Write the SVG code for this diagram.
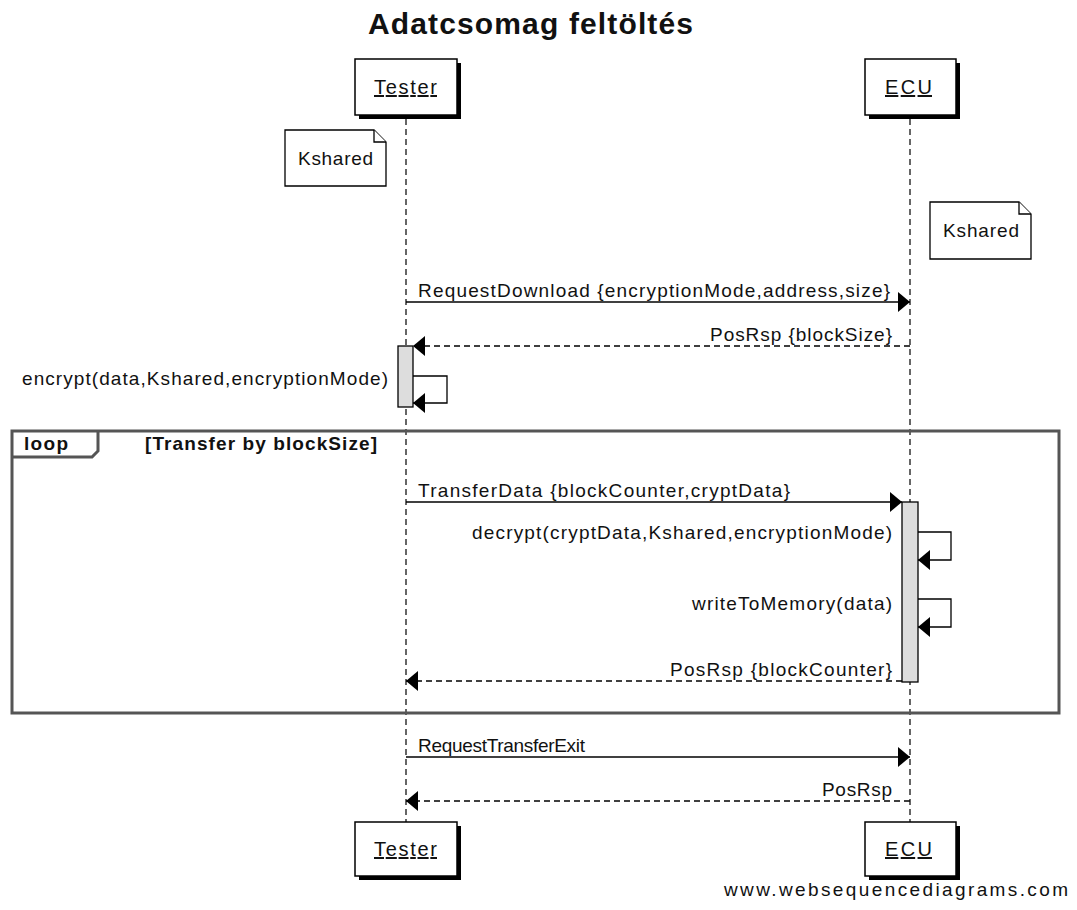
<svg xmlns="http://www.w3.org/2000/svg" width="1077" height="910" viewBox="0 0 1077 910">
  <style>
    text { font-family: "Liberation Sans", Arial, sans-serif; fill: #111; }
    .title { font-size: 30px; font-weight: bold; }
    .lbl { font-size: 19px; }
    .actor-txt { font-size: 20px; text-decoration: underline; }
    .actor { fill: #fff; stroke: #000; stroke-width: 1.5; }
    .shadow { fill: #000; }
    .lifeline { stroke: #000; stroke-width: 1.2; stroke-dasharray: 6 4; fill: none; }
    .msg { stroke: #000; stroke-width: 1.3; fill: none; }
    .ret { stroke: #000; stroke-width: 1.3; fill: none; stroke-dasharray: 6 4; }
    .act { fill: #ddd; stroke: #000; stroke-width: 1.3; }
    .note { fill: #fff; stroke: #000; stroke-width: 1.3; }
    .frame { fill: none; stroke: #555; stroke-width: 3; }
    .bold { font-weight: bold; }
  </style>
  <defs>
    <marker id="arrow" markerUnits="userSpaceOnUse" markerWidth="13" markerHeight="22" refX="12" refY="11" orient="auto">
      <path d="M0,1 L12,11 L0,21 Z" fill="#000"/>
    </marker>
  </defs>

  <rect width="1077" height="910" fill="#fff"/>

  <text class="title" x="368" y="34" textLength="325" lengthAdjust="spacing">Adatcsomag feltöltés</text>

  <!-- lifelines -->
  <g id="lifelines">
    <line class="lifeline" x1="406" y1="119" x2="406" y2="822"/>
    <line class="lifeline" x1="910" y1="119" x2="910" y2="822"/>
  </g>

  <!-- participants -->
  <g id="tester-top">
    <rect class="shadow" x="359" y="63" width="102" height="56"/>
    <rect class="actor" x="355" y="59" width="102" height="56"/>
    <text class="actor-txt" x="374" y="94" textLength="63" lengthAdjust="spacing">Tester</text>
  </g>
  <g id="ecu-top">
    <rect class="shadow" x="869" y="63" width="91" height="56"/>
    <rect class="actor" x="865" y="59" width="91" height="56"/>
    <text class="actor-txt" x="885" y="94" textLength="47" lengthAdjust="spacing">ECU</text>
  </g>
  <g id="tester-bottom">
    <rect class="shadow" x="359" y="826" width="102" height="54"/>
    <rect class="actor" x="355" y="822" width="102" height="54"/>
    <text class="actor-txt" x="374" y="856" textLength="63" lengthAdjust="spacing">Tester</text>
  </g>
  <g id="ecu-bottom">
    <rect class="shadow" x="869" y="826" width="91" height="54"/>
    <rect class="actor" x="865" y="822" width="91" height="54"/>
    <text class="actor-txt" x="885" y="856" textLength="47" lengthAdjust="spacing">ECU</text>
  </g>

  <!-- notes -->
  <g id="note-tester">
    <path class="note" d="M285,130 H374 L386,142 V186 H285 Z"/>
    <path class="note" d="M374,130 V142 H386"/>
    <text class="lbl" x="298" y="165" textLength="75" lengthAdjust="spacing">Kshared</text>
  </g>
  <g id="note-ecu">
    <path class="note" d="M930,202 H1019 L1031,214 V259 H930 Z"/>
    <path class="note" d="M1019,202 V214 H1031"/>
    <text class="lbl" x="943" y="237" textLength="76" lengthAdjust="spacing">Kshared</text>
  </g>

  <!-- loop frame -->
  <g id="loop">
    <rect class="frame" x="12" y="431" width="1047" height="282"/>
    <path class="frame" d="M12,457 H92 L98,451 V431"/>
    <text class="lbl bold" x="24" y="450" textLength="44" lengthAdjust="spacing">loop</text>
    <text class="lbl bold" x="145" y="450" textLength="232" lengthAdjust="spacing">[Transfer by blockSize]</text>
  </g>

  <!-- activation bars -->
  <g id="activations">
    <rect class="act" x="398" y="346" width="15" height="61"/>
    <rect class="act" x="902" y="502" width="16" height="180"/>
  </g>

  <!-- messages -->
  <g id="connectors">
    <line class="msg" x1="406" y1="302" x2="910" y2="302" marker-end="url(#arrow)"/>
    <line class="ret" x1="910" y1="346" x2="413" y2="346" marker-end="url(#arrow)"/>
    <polyline class="msg" points="413,376 447,376 447,403 413,403" marker-end="url(#arrow)"/>
    <line class="msg" x1="406" y1="502" x2="902" y2="502" marker-end="url(#arrow)"/>
    <polyline class="msg" points="918,532 951,532 951,560 918,560" marker-end="url(#arrow)"/>
    <polyline class="msg" points="918,599 951,599 951,627 918,627" marker-end="url(#arrow)"/>
    <line class="ret" x1="902" y1="681" x2="406" y2="681" marker-end="url(#arrow)"/>
    <line class="msg" x1="406" y1="757" x2="910" y2="757" marker-end="url(#arrow)"/>
    <line class="ret" x1="910" y1="801" x2="406" y2="801" marker-end="url(#arrow)"/>
  </g>

  <!-- message labels -->
  <g id="labels">
    <text class="lbl" x="418" y="297" textLength="472" lengthAdjust="spacing">RequestDownload {encryptionMode,address,size}</text>
    <text class="lbl" x="710" y="341" textLength="182" lengthAdjust="spacing">PosRsp {blockSize}</text>
    <text class="lbl" x="22" y="385" textLength="366" lengthAdjust="spacing">encrypt(data,Kshared,encryptionMode)</text>
    <text class="lbl" x="418" y="497" textLength="372" lengthAdjust="spacing">TransferData {blockCounter,cryptData}</text>
    <text class="lbl" x="472" y="539" textLength="420" lengthAdjust="spacing">decrypt(cryptData,Kshared,encryptionMode)</text>
    <text class="lbl" x="692" y="610" textLength="200" lengthAdjust="spacing">writeToMemory(data)</text>
    <text class="lbl" x="670" y="676" textLength="222" lengthAdjust="spacing">PosRsp {blockCounter}</text>
    <text class="lbl" x="418" y="752" textLength="167" lengthAdjust="spacing">RequestTransferExit</text>
    <text class="lbl" x="822" y="796" textLength="70" lengthAdjust="spacing">PosRsp</text>
  </g>

  <text class="lbl" x="724" y="896" textLength="344" lengthAdjust="spacing">www.websequencediagrams.com</text>
</svg>
